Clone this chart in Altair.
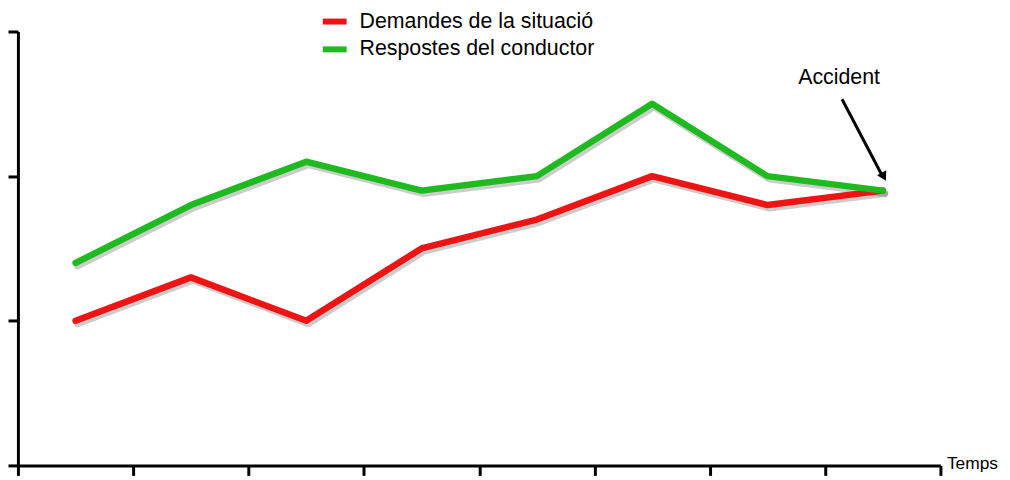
import altair as alt
import pandas as pd

# data
time = [1, 2, 3, 4, 5, 6, 7, 8]
demandes = [1.0, 1.3, 1.0, 1.5, 1.7, 2.0, 1.8, 1.9]
respostes = [1.4, 1.8, 2.1, 1.9, 2.0, 2.5, 2.0, 1.9]
series_names = ["Demandes de la situació", "Respostes del conductor"]
series_colors = ["#ee1414", "#1fba1f"]
x_ticks = [0, 1, 2, 3, 4, 5, 6, 7, 8]
y_ticks = [0, 1, 2, 3]
annotation_text = "Accident"
x_title = "Temps"

rows = []
for t, d, r in zip(time, demandes, respostes):
    rows.append({"t": t - 0.5, "v": d, "serie": series_names[0]})
    rows.append({"t": t - 0.5, "v": r, "serie": series_names[1]})
df = pd.DataFrame(rows)

ann = pd.DataFrame({"t": [time[-1] - 0.5], "v": [demandes[-1]], "label": [annotation_text]})

FONT = "Liberation Sans"

xs = alt.Scale(domain=[0, 8], nice=False, zero=False)
ys = alt.Scale(domain=[0, 3], nice=False, zero=False)

x_axis = alt.Axis(values=x_ticks, labels=False, grid=False, tickSize=10, tickWidth=3,
                  domainWidth=3, domainColor="black", tickColor="black",
                  title=x_title, titleX=935, titleY=-2, titleAlign="left",
                  titleBaseline="middle", titleFontWeight="normal", titleFontSize=17.5,
                  titleFont=FONT, titleColor="black", titleLimit=200)
y_axis = alt.Axis(values=y_ticks, labels=False, grid=False, tickSize=10, tickWidth=3,
                  domainWidth=3, domainColor="black", tickColor="black", title=None)

base = alt.Chart(df)

shadow = base.mark_line(strokeWidth=7, color="#555555", opacity=0.3, xOffset=2, yOffset=3,
                        strokeCap="round", strokeJoin="round").encode(
    x=alt.X("t:Q", scale=xs, axis=x_axis),
    y=alt.Y("v:Q", scale=ys, axis=y_axis),
    detail="serie:N",
)

lines = base.mark_line(strokeWidth=6.5, strokeCap="round", strokeJoin="round").encode(
    x=alt.X("t:Q", scale=xs),
    y=alt.Y("v:Q", scale=ys),
    color=alt.Color("serie:N",
                    scale=alt.Scale(domain=series_names, range=series_colors),
                    legend=alt.Legend(orient="none", legendX=304, legendY=-25, title=None,
                                      symbolType="stroke", symbolStrokeWidth=6, symbolSize=576,
                                      labelFontSize=21.5, labelFont=FONT, labelColor="black",
                                      labelOffset=10, rowPadding=1, padding=0, labelLimit=400)),
)

ann_base = alt.Chart(ann)
arrow = ann_base.mark_rule(strokeWidth=3, color="black", xOffset=-41, yOffset=-92,
                           x2Offset=0, y2Offset=-14).encode(
    x=alt.X("t:Q", scale=xs), y=alt.Y("v:Q", scale=ys), x2="t:Q", y2="v:Q")
head = ann_base.mark_point(shape="triangle-up", filled=True, color="black", opacity=1,
                           size=110, angle=152, xOffset=1, yOffset=-14).encode(
    x=alt.X("t:Q", scale=xs), y=alt.Y("v:Q", scale=ys))
label = ann_base.mark_text(font=FONT, fontSize=21.5, color="black", dx=-44, dy=-113,
                           align="center", baseline="middle").encode(
    x=alt.X("t:Q", scale=xs), y=alt.Y("v:Q", scale=ys), text="label:N")

chart = alt.layer(shadow, lines, arrow, head, label).properties(
    width=929, height=437,
    autosize=alt.AutoSizeParams(type="none"),
    padding={"left": 10, "top": 22, "right": 62, "bottom": 10},
).configure_view(stroke=None)

chart.save("out.html", embed_options={"renderer": "svg", "actions": False})
